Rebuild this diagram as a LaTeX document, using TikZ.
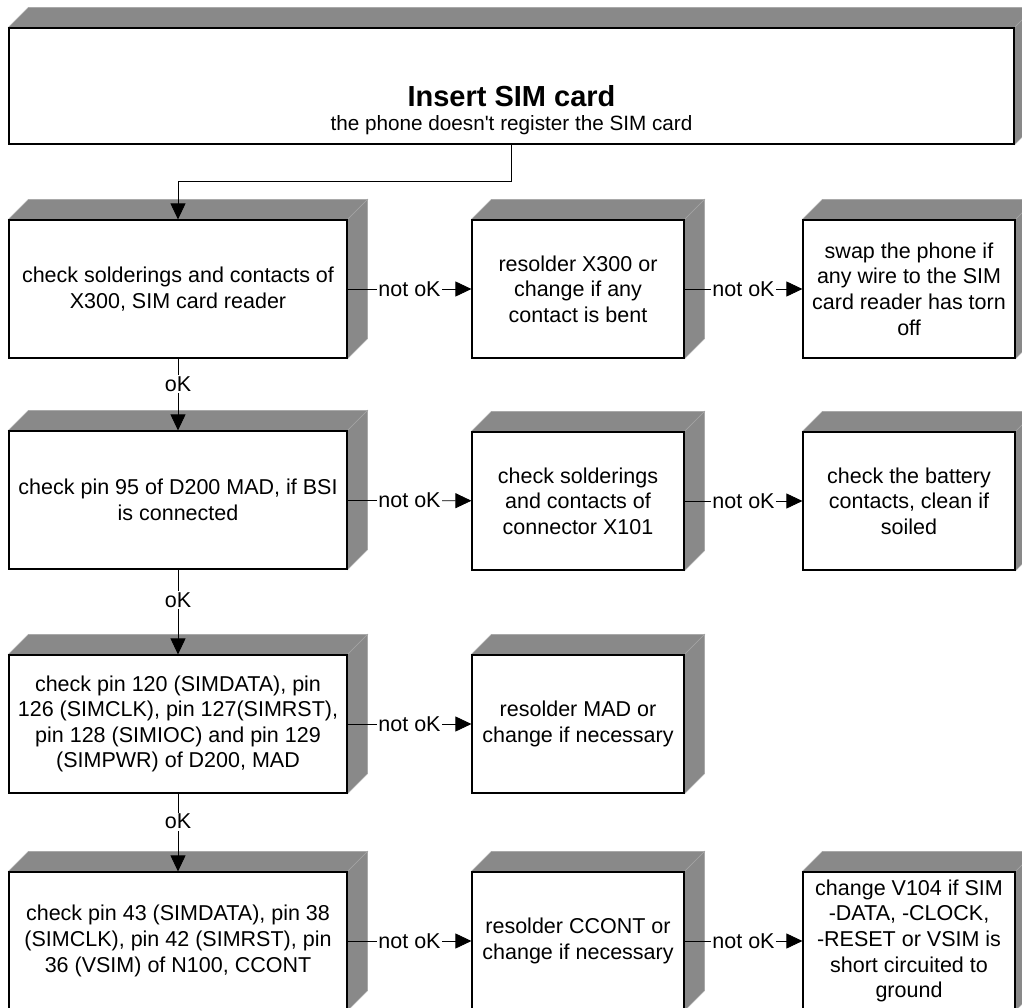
\documentclass[tikz,border=0pt]{standalone}
\usepackage{fontspec}
\setmainfont{Liberation Sans}[Ligatures=TeXOff]
\usetikzlibrary{arrows.meta}
\usetikzlibrary{calc}
\usetikzlibrary{backgrounds}

\definecolor{facegray}{RGB}{137,137,137}
\definecolor{edgegray}{RGB}{165,165,165}

\begin{document}
\begin{tikzpicture}[x=1pt, y=-1pt,
    box/.style={draw, line width=1.2pt, fill=white, align=center, inner sep=0pt,
        minimum height=138pt, font=\fontsize{21.5}{25.6}\selectfont},
    wide/.style={box, minimum width=338pt},
    narrow/.style={box, minimum width=212pt},
    lbl/.style={fill=white, inner sep=1.5pt, font=\fontsize{21.5}{25}\selectfont},
    link/.style={line width=0.8pt, -{Triangle[length=16pt, width=15pt]}},
    face/.style={fill=facegray, draw=edgegray, line width=0.6pt}]

\useasboundingbox (0,0) rectangle (1022,1008);

% title block
\node[box, minimum width=1005pt, minimum height=116pt] (top) at (511.5,86) {};
\node[font=\fontsize{29}{33}\selectfont\bfseries] (title) at (511.5,96) {Insert SIM card};
\node[font=\fontsize{20.7}{24}\selectfont] (subtitle) at (511.5,125) {the phone doesn't register the SIM card};

% first column
\node[wide] (b11) at (178,289) {check solderings and contacts of\\X300, SIM card reader};
\node[wide] (b21) at (178,500) {check pin 95 of D200 MAD, if BSI\\is connected};
\node[wide] (b31) at (178,724) {check pin 120 (SIMDATA), pin\\126 (SIMCLK), pin 127(SIMRST),\\pin 128 (SIMIOC) and pin 129\\(SIMPWR) of D200, MAD};
\node[wide] (b41) at (178,941) {check pin 43 (SIMDATA), pin 38\\(SIMCLK), pin 42 (SIMRST), pin\\36 (VSIM) of N100, CCONT};

% second column
\node[narrow] (b12) at (578,289) {resolder X300 or\\change if any\\contact is bent};
\node[narrow] (b22) at (578,501) {check solderings\\and contacts of\\connector X101};
\node[narrow] (b32) at (578,724) {resolder MAD or\\change if necessary};
\node[narrow] (b42) at (578,941) {resolder CCONT or\\change if necessary};

% third column
\node[narrow] (b13) at (909,289) {swap the phone if\\any wire to the SIM\\card reader has torn\\off};
\node[narrow] (b23) at (909,501) {check the battery\\contacts, clean if\\soiled};
\node[narrow] (b43) at (909,941) {change V104 if SIM\\-DATA, -CLOCK,\\-RESET or VSIM is\\short circuited to\\ground};

% depth faces
\def\dep{20}
\begin{scope}[on background layer]
\foreach \n in {top,b11,b21,b31,b41,b12,b22,b32,b42,b13,b23,b43} {
    \draw[face] (\n.north west) -- ++(\dep,-\dep)
        -- ($(\n.north east)+(\dep,-\dep)$) -- (\n.north east) -- cycle;
    \draw[face] (\n.north east) -- ++(\dep,-\dep)
        -- ($(\n.south east)+(\dep,-\dep)$) -- (\n.south east) -- cycle;
}
\end{scope}

% connectors
\draw[link] (top.south) -- ++(0,37) -| (b11.north);
\foreach \a/\b in {b11/b21, b21/b31, b31/b41}
    \draw[link] (\a) -- node[lbl, pos=0.36] (ok-\a) {oK} (\b);
\foreach \a/\b in {b11/b12, b12/b13, b21/b22, b22/b23, b31/b32, b41/b42, b42/b43}
    \draw[link] (\a) -- node[lbl] (nok-\a) {not oK} (\b);

\end{tikzpicture}
\end{document}
